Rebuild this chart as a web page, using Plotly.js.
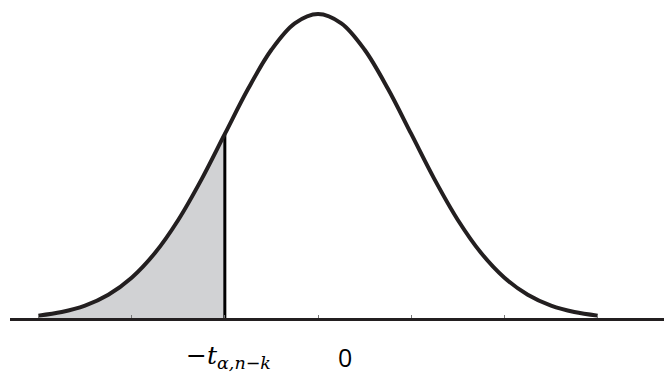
<!DOCTYPE html>
<html>
<head>
<meta charset="utf-8">
<script src="https://cdn.plot.ly/plotly-3.0.1.min.js"></script>
<style>html,body{margin:0;padding:0;background:#fff;}#chart{width:664px;height:376px;}</style>
</head>
<body>
<div id="chart"></div>
<script>
// Density curve (standard units on x)
const xs = [-3, -2.75, -2.5, -2.25, -2, -1.75, -1.5, -1.25, -1, -0.75, -0.5, -0.25, 0,
            0.25, 0.5, 0.75, 1, 1.25, 1.5, 1.75, 2, 2.25, 2.5, 2.75, 3];
const ys = [0.0044, 0.0091, 0.0175, 0.0317, 0.054, 0.0863, 0.1295, 0.1826, 0.242, 0.3011, 0.3521, 0.3867, 0.3989,
            0.3867, 0.3521, 0.3011, 0.242, 0.1826, 0.1295, 0.0863, 0.054, 0.0317, 0.0175, 0.0091, 0.0044];
const critX = -1;           // position of -t_{alpha,n-k}
const tickVals = [-3, -2, -1, 0, 1, 2, 3];
const labelCrit = '−<i>t</i><sub><i>α,n−k</i></sub>';
const labelZero = '0';

const tailX = [], tailY = [];
xs.forEach((x, i) => { if (x <= critX) { tailX.push(x); tailY.push(ys[i]); } });
const critY = ys[xs.indexOf(critX)];

const ink = '#231f20';
const traces = [
  {x: tailX, y: tailY, type: 'scatter', mode: 'lines', line: {width: 0, shape: 'spline'},
   fill: 'tozeroy', fillcolor: '#d1d2d4', hoverinfo: 'skip'},
  {x: [critX, critX], y: [0, critY], type: 'scatter', mode: 'lines',
   line: {color: '#000', width: 3}, hoverinfo: 'skip'},
  {x: xs, y: ys, type: 'scatter', mode: 'lines', line: {color: ink, width: 4, shape: 'spline'},
   hoverinfo: 'skip'}
];

const layout = {
  width: 664, height: 376,
  margin: {l: 0, r: 0, t: 0, b: 0},
  paper_bgcolor: '#fff', plot_bgcolor: '#fff',
  showlegend: false,
  xaxis: {
    domain: [10/664, 1], range: [-3.305, 3.712],
    anchor: 'free', position: 57/376,
    showline: true, linecolor: ink, linewidth: 3,
    showgrid: false, zeroline: false,
    ticks: 'inside', ticklen: 3, tickwidth: 1, tickcolor: '#777',
    tickvals: tickVals, showticklabels: false
  },
  yaxis: {range: [-0.07455, 0.4172], visible: false, showgrid: false, zeroline: false},
  annotations: [
    {xref: 'paper', yref: 'paper', x: 228/664, y: (376-357)/376, xanchor: 'center', yanchor: 'middle',
     text: labelCrit, showarrow: false, font: {family: 'DejaVu Serif', size: 25, color: '#000'}},
    {xref: 'paper', yref: 'paper', x: 345/664, y: (376-357)/376, xanchor: 'center', yanchor: 'middle',
     text: labelZero, showarrow: false, font: {family: 'Open Sans', size: 25, color: '#000'}}
  ]
};

Plotly.newPlot('chart', traces, layout, {staticPlot: true, displayModeBar: false});
</script>
</body>
</html>
